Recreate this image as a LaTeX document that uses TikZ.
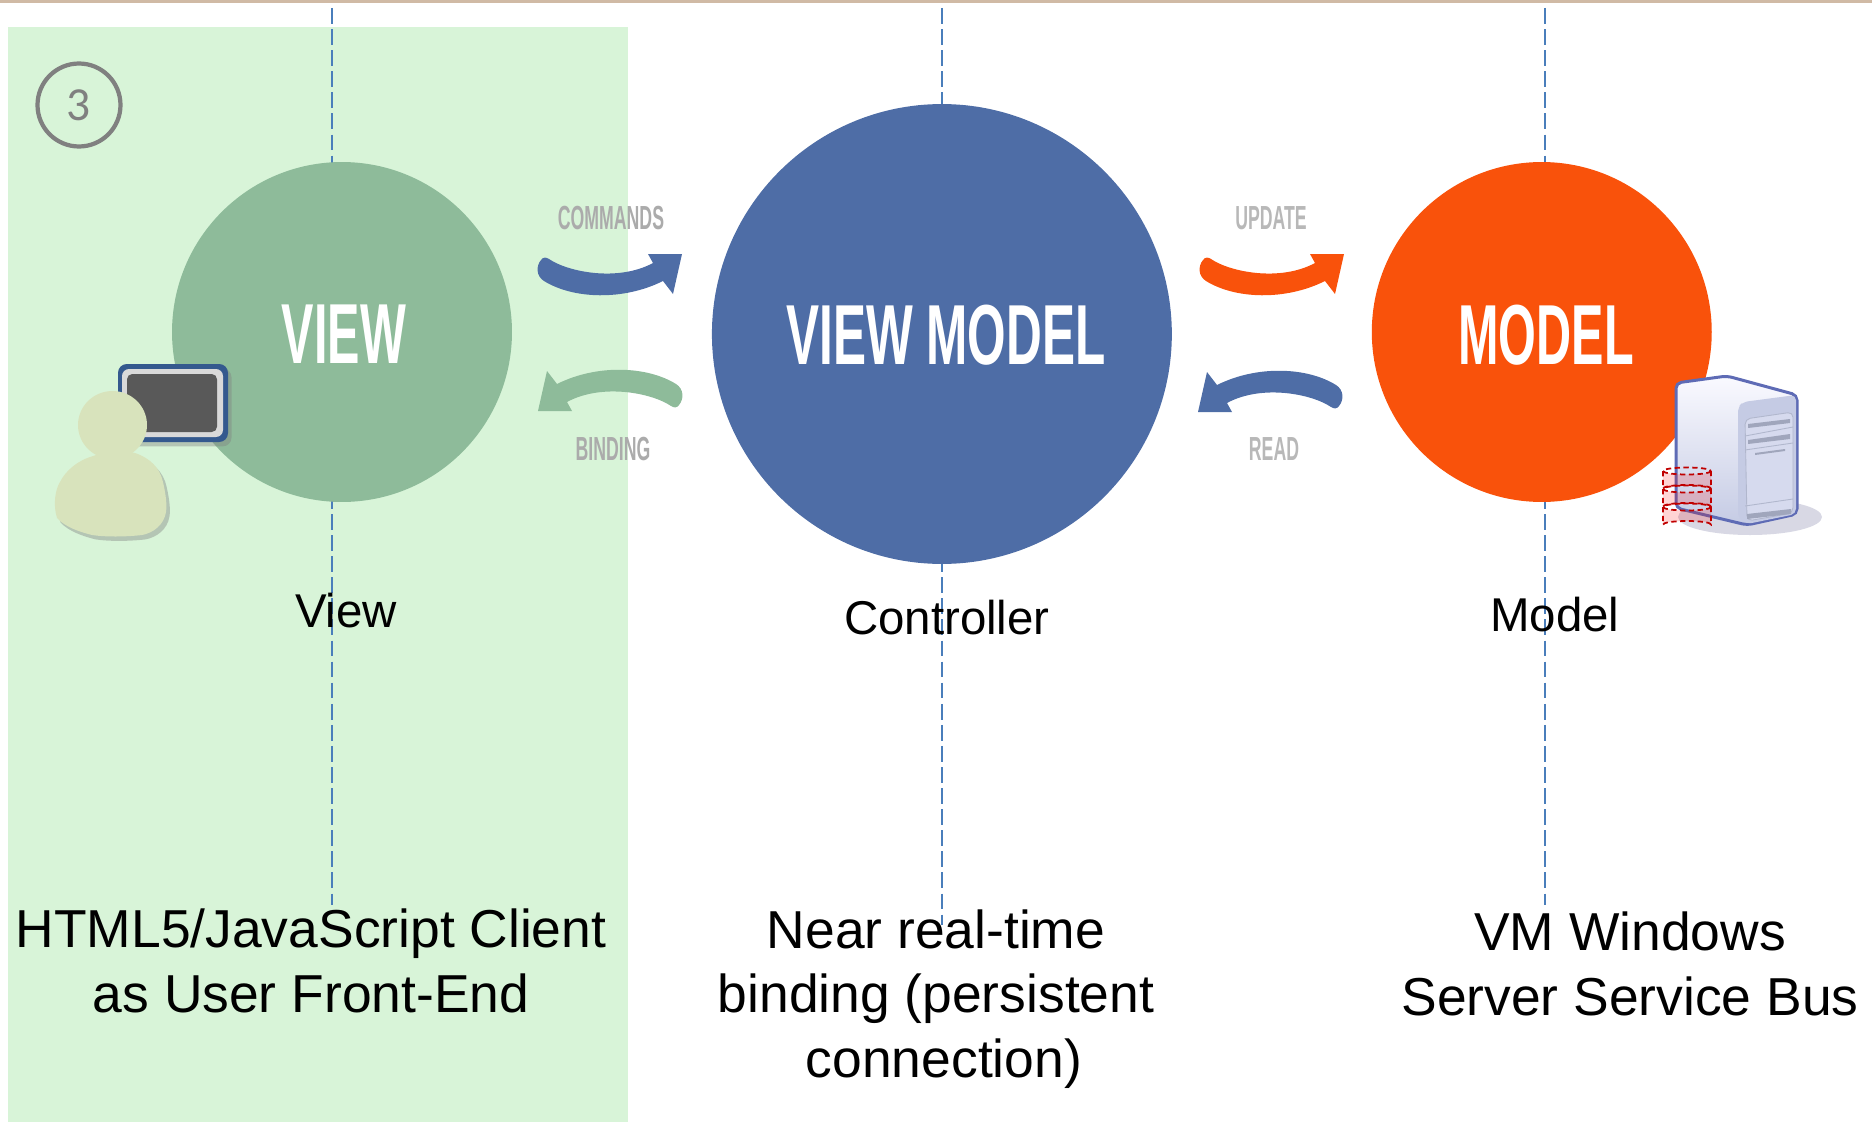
\documentclass[tikz,border=0pt]{standalone}
\usepackage{fontspec}
\setmainfont{Liberation Sans}
\newfontfamily\numberfont{Carlito}
\usetikzlibrary{shadows}
\definecolor{topTan}{HTML}{D0BAA5}
\definecolor{paneGreen}{HTML}{D8F4D8}
\definecolor{viewGreen}{HTML}{8EBB9A}
\definecolor{modelBlue}{HTML}{4E6DA6}
\definecolor{modelOrange}{HTML}{F9520B}
\definecolor{guideBlue}{HTML}{4A7EBB}
\definecolor{personGreen}{HTML}{D8E3BC}
\definecolor{tabletBlue}{HTML}{34598E}
\definecolor{serverLine}{HTML}{5E6BB5}
\definecolor{serverBar}{HTML}{A0A6BC}
\definecolor{serverPanel}{HTML}{C5CBE4}
\definecolor{serverFace}{HTML}{D6DAEE}
\definecolor{serverShade}{HTML}{D8D8E4}
\definecolor{dbRed}{HTML}{C00000}
\tikzstyle{hub} = [circle, minimum size=6.8cm, inner sep=0pt, text centered]
\tikzstyle{hubWord} = [font=\fontsize{48.5}{50}\selectfont\bfseries, text=white, xscale=0.57, transform shape]
\tikzstyle{flowWord} = [font=\fontsize{19}{20}\selectfont\bfseries, text=black!33, xscale=0.53, transform shape]
\tikzstyle{roleWord} = [font=\fontsize{27}{32}\selectfont, text=black]
\tikzstyle{caption} = [font=\fontsize{30.4}{36.7}\selectfont, text=black, align=center]
\tikzstyle{guide} = [guideBlue, line width=0.85pt, dash pattern=on 9pt off 3pt]
\tikzset{
  bendArrow/.pic={
    \path[pic actions] (11,5) .. controls (30,18) and (80,28) .. (115,9) -- (110,0) -- (144,0) -- (135,40) -- (125,27)
      .. controls (85,47) and (35,45) .. (6,27) .. controls (-2,22) and (-2,12) .. (3,6) .. controls (5,3) and (8,3) .. (11,5) -- cycle;
  },
  dbDisc/.pic={
    \path[fill=red, fill opacity=0.17] (0,0) -- (0,17.5) arc[start angle=180, end angle=360, x radius=24, y radius=3.5] -- (48,0) arc[start angle=0, end angle=180, x radius=24, y radius=3.5] -- cycle;
    \draw[dbRed, line width=1pt, densely dashed] (24,0) ellipse[x radius=24, y radius=3.5];
    \draw[dbRed, line width=1pt, densely dashed] (0,0) -- (0,17.5) arc[start angle=180, end angle=360, x radius=24, y radius=3.5] -- (48,0);
  }
}

\begin{document}
\begin{tikzpicture}[x=0.02cm, y=-0.02cm, node distance=12cm]
            \useasboundingbox (0,0) rectangle (1872,1122);
            \fill[topTan] (0,0) rectangle (1872,3);
            \fill[paneGreen] (8,27) rectangle (628,1122);

            \coordinate (viewTop) at (332,8);
            \coordinate (viewBottom) at (332,905);
            \coordinate (viewModelTop) at (942,8);
            \coordinate (viewModelBottom) at (942,925);
            \coordinate (modelTop) at (1545,8);
            \coordinate (modelBottom) at (1545,905);

            \draw[guide] (viewTop) -- (viewBottom);
            \draw[guide] (viewModelTop) -- (viewModelBottom);
            \draw[guide] (modelTop) -- (modelBottom);

            \node[draw=black!50, line width=2.4pt, circle, minimum size=1.66cm, inner sep=0pt, text=black!50, font=\numberfont\fontsize{27}{30}\selectfont] (step3) at (79,105) {3};

            \node[hub, fill=viewGreen] (view) at (342,332) {};
            \node[hub, fill=modelBlue, minimum size=9.2cm, right of=view, yshift=-0.04cm] (viewModel) {};
            \node[hub, fill=modelOrange, right of=view, xshift=12cm] (model) {};

            \node[hubWord] (viewWord) at (344,334) {VIEW};
            \node[hubWord, xscale=1.02] (viewModelWord) at (946,335) {VIEW MODEL};
            \node[hubWord] (modelWord) at (1546,335) {MODEL};

            \pic[fill=modelBlue] (commands) at (538,254) {bendArrow};
            \pic[fill=viewGreen, rotate=180] (binding) at (682,411) {bendArrow};
            \pic[fill=modelOrange] (update) at (1200,254) {bendArrow};
            \pic[fill=modelBlue, rotate=180] (read) at (1342,412) {bendArrow};

            \node[flowWord] (commandsWord) at (611,218) {COMMANDS};
            \node[flowWord] (bindingWord) at (613,449) {BINDING};
            \node[flowWord, text=black!28] (updateWord) at (1271,218) {UPDATE};
            \node[flowWord, text=black!28] (readWord) at (1274,449) {READ};

            \node[roleWord, below of=view, node distance=5.58cm, xshift=0.08cm] (viewRole) {View};
            \node[roleWord, below of=viewModel, node distance=5.68cm, xshift=0.1cm] (controllerRole) {Controller};
            \node[roleWord, below of=model, node distance=5.66cm, xshift=0.26cm] (modelRole) {Model};

            \node[caption] (viewCaption) at (311,961) {HTML5/JavaScript Client\\as User Front-End};
            \node[caption] (controllerCaption) at (936,999) {Near real-time\\binding (persistent\\\hspace{9pt}connection)};
            \node[caption] (modelCaption) at (1630,964) {VM Windows\\Server Service Bus};

            % person with tablet
            \fill[tabletBlue, rounded corners=5pt, drop shadow={shadow xshift=2pt, shadow yshift=-2.5pt, opacity=0.4}] (118,364) rectangle (228,442);
            \fill[black!15, rounded corners=4pt] (122,369) rectangle (223,437);
            \fill[black!65, rounded corners=3pt] (127,374) rectangle (217,432);
            \fill[personGreen, drop shadow={shadow xshift=2pt, shadow yshift=-2.5pt, opacity=0.4}] (90,457) .. controls (110,450) and (125,450) .. (135,453)
              .. controls (150,458) and (160,468) .. (163,482) .. controls (166,495) and (167,505) .. (166,512)
              .. controls (164,525) and (153,533) .. (142,535) .. controls (125,537) and (105,537) .. (92,535)
              .. controls (80,532) and (65,527) .. (57,518) .. controls (53,505) and (55,490) .. (60,482) .. controls (66,470) and (78,461) .. (90,457) -- cycle;
            \fill[personGreen] (112.5,425) ellipse[x radius=34.5, y radius=34];

            % server with database
            \fill[serverShade] (1750,517) ellipse[x radius=72, y radius=18];
            \draw[serverLine, line width=1.7pt, rounded corners=3pt, top color=blue!2, bottom color=serverPanel] (1676,383) -- (1727,376) -- (1797,395) -- (1797,514) -- (1747,525) -- (1676,508) -- cycle;
            \fill[serverPanel, rounded corners=3pt] (1738,407) -- (1743,402) -- (1796,395) -- (1796,514) -- (1747,524) -- (1738,518) -- cycle;
            \draw[serverPanel!90!black, fill=serverFace, line width=0.5pt, rounded corners=3pt] (1745,419) -- (1793,412) -- (1793,513) -- (1747,521) -- cycle;
            \draw[serverPanel!90!black, line width=0.5pt] (1745,436) -- (1793,427);
            \draw[serverPanel!90!black, line width=0.5pt] (1745,450) -- (1793,443);
            \draw[serverPanel!90!black, line width=0.5pt] (1745,506) -- (1793,499);
            \fill[serverBar] (1748,424) -- (1790,419) -- (1790,423) -- (1748,428) -- cycle;
            \fill[serverBar] (1748,440) -- (1790,434) -- (1790,439) -- (1748,444) -- cycle;
            \fill[serverBar] (1755,453) -- (1785,449) -- (1785,451) -- (1755,455) -- cycle;
            \fill[serverBar] (1747,514) -- (1791,509) -- (1791,514) -- (1747,519) -- cycle;
            \pic (dbBottom) at (1663,507) {dbDisc};
            \pic (dbMiddle) at (1663,489) {dbDisc};
            \pic (dbTop) at (1663,471) {dbDisc};
\end{tikzpicture}
\end{document}
